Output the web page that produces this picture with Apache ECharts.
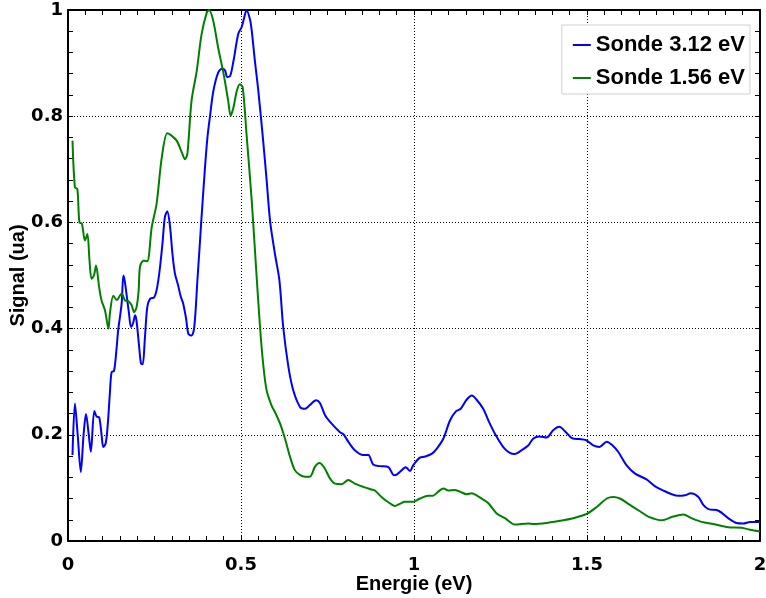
<!DOCTYPE html>
<html>
<head>
<meta charset="utf-8">
<script src="https://cdn.jsdelivr.net/npm/echarts@6/dist/echarts.min.js"></script>
<style>html,body{margin:0;padding:0;background:#fff}#c{width:766px;height:598px}</style>
</head>
<body>
<div id="c"></div>
<script>
const xTicks = ['0', '0.5', '1', '1.5', '2'];
const yTicks = ['0', '0.2', '0.4', '0.6', '0.8', '1'];
const seriesNames = ['Sonde 3.12 eV', 'Sonde 1.56 eV'];

const energyBlue = [0.013,0.020,0.028,0.037,0.045,0.052,0.060,0.066,0.076,0.083,0.090,0.097,0.102,0.109,0.115,0.121,0.126,0.133,0.140,0.145,0.155,0.160,0.164,0.170,0.176,0.182,0.188,0.194,0.198,0.205,0.211,0.216,0.222,0.229,0.237,0.249,0.256,0.261,0.266,0.273,0.280,0.287,0.295,0.302,0.309,0.318,0.326,0.333,0.341,0.348,0.357,0.365,0.374,0.380,0.386,0.396,0.403,0.410,0.420,0.434,0.446,0.454,0.460,0.468,0.478,0.492,0.502,0.509,0.516,0.526,0.531,0.540,0.550,0.564,0.574,0.584,0.598,0.611,0.622,0.637,0.651,0.671,0.685,0.699,0.717,0.728,0.743,0.762,0.786,0.796,0.810,0.829,0.853,0.868,0.882,0.902,0.926,0.942,0.950,0.964,0.976,0.988,0.998,1.017,1.032,1.051,1.066,1.085,1.104,1.121,1.135,1.152,1.167,1.181,1.200,1.215,1.234,1.258,1.277,1.292,1.311,1.330,1.345,1.362,1.383,1.403,1.420,1.439,1.459,1.478,1.497,1.518,1.536,1.557,1.574,1.590,1.614,1.639,1.672,1.697,1.721,1.745,1.764,1.783,1.800,1.822,1.836,1.851,1.880,1.908,1.932,1.952,1.971,2.0];
const signalBlue = [0.162,0.259,0.200,0.130,0.200,0.239,0.200,0.168,0.245,0.234,0.233,0.200,0.177,0.184,0.220,0.278,0.318,0.320,0.360,0.397,0.447,0.500,0.490,0.460,0.430,0.403,0.410,0.425,0.415,0.370,0.334,0.333,0.380,0.440,0.456,0.459,0.472,0.491,0.516,0.560,0.610,0.621,0.591,0.540,0.504,0.482,0.460,0.447,0.420,0.390,0.387,0.403,0.491,0.550,0.610,0.704,0.760,0.798,0.847,0.882,0.890,0.886,0.874,0.875,0.903,0.955,0.968,0.985,1.000,0.982,0.961,0.905,0.848,0.754,0.680,0.603,0.541,0.491,0.403,0.328,0.284,0.252,0.249,0.256,0.265,0.260,0.237,0.221,0.205,0.201,0.187,0.171,0.162,0.162,0.144,0.141,0.139,0.124,0.125,0.133,0.139,0.132,0.143,0.157,0.159,0.164,0.174,0.193,0.227,0.244,0.249,0.266,0.274,0.266,0.249,0.227,0.202,0.177,0.166,0.164,0.171,0.180,0.193,0.197,0.195,0.209,0.215,0.205,0.193,0.192,0.190,0.180,0.177,0.187,0.180,0.168,0.143,0.127,0.116,0.103,0.095,0.088,0.085,0.086,0.090,0.083,0.068,0.060,0.057,0.043,0.034,0.033,0.036,0.036];

const energyGreen = [0.013,0.020,0.027,0.033,0.040,0.049,0.056,0.062,0.068,0.075,0.081,0.090,0.097,0.107,0.117,0.121,0.131,0.141,0.155,0.165,0.174,0.184,0.191,0.198,0.204,0.208,0.218,0.229,0.242,0.256,0.271,0.287,0.300,0.314,0.329,0.338,0.345,0.357,0.372,0.386,0.401,0.408,0.420,0.434,0.449,0.463,0.470,0.478,0.488,0.497,0.505,0.516,0.531,0.543,0.555,0.564,0.574,0.589,0.598,0.613,0.627,0.642,0.656,0.671,0.685,0.699,0.714,0.727,0.740,0.757,0.772,0.791,0.810,0.829,0.853,0.877,0.887,0.906,0.926,0.945,0.959,0.974,0.998,1.017,1.041,1.054,1.070,1.085,1.099,1.116,1.133,1.152,1.167,1.181,1.200,1.215,1.239,1.263,1.292,1.330,1.345,1.383,1.422,1.460,1.499,1.528,1.557,1.576,1.595,1.624,1.653,1.677,1.716,1.749,1.778,1.802,1.831,1.865,1.908,1.947,1.971,2.0];
const signalGreen = [0.754,0.666,0.663,0.600,0.598,0.566,0.578,0.530,0.494,0.500,0.519,0.478,0.453,0.434,0.400,0.428,0.462,0.454,0.466,0.453,0.452,0.444,0.431,0.440,0.470,0.516,0.528,0.527,0.591,0.635,0.722,0.768,0.763,0.754,0.732,0.719,0.729,0.829,0.885,0.954,0.995,1.000,0.979,0.929,0.882,0.829,0.801,0.816,0.848,0.860,0.854,0.766,0.641,0.520,0.403,0.334,0.284,0.254,0.243,0.221,0.193,0.158,0.133,0.124,0.121,0.121,0.140,0.147,0.139,0.118,0.108,0.107,0.115,0.108,0.102,0.097,0.095,0.083,0.073,0.066,0.070,0.074,0.074,0.080,0.085,0.085,0.093,0.099,0.095,0.096,0.093,0.088,0.090,0.086,0.078,0.071,0.052,0.043,0.031,0.033,0.032,0.034,0.038,0.043,0.051,0.064,0.080,0.083,0.080,0.068,0.056,0.046,0.039,0.046,0.050,0.043,0.036,0.032,0.026,0.025,0.021,0.018];

const zip = (xs, ys) => xs.map((x, i) => [x, ys[i]]);
const FONT = 'Liberation Sans';
const TICKFONT = 'DejaVu Sans';
const chart = echarts.init(document.getElementById('c'), null, {renderer: 'canvas'});

const gridLine = {show: true, lineStyle: {color: '#000', width: 1, type: [1, 2]}};
const axLine = {show: true, onZero: false, lineStyle: {color: '#000', width: 2}};
const tick = {show: true, inside: true, length: 5, lineStyle: {color: '#000', width: 1}};

chart.setOption({
  animation: false,
  backgroundColor: '#fff',
  grid: {left: 68, right: 6, top: 10, bottom: 57, containLabel: false, outerBoundsMode: 'none'},
  legend: {
    orient: 'vertical', top: 25, right: 16,
    data: seriesNames,
    backgroundColor: '#fff', borderColor: '#d0d0d0', borderWidth: 1,
    padding: [9, 5, 5, 11], itemGap: 11,
    itemWidth: 18, itemHeight: 2, icon: 'rect',
    textStyle: {fontFamily: FONT, fontSize: 22, fontWeight: 'bold', color: '#000'}
  },
  xAxis: [{
    type: 'value', min: 0, max: 2, interval: 0.5,
    name: 'Energie (eV)', nameLocation: 'middle', nameGap: 33, nameMoveOverlap: false,
    nameTextStyle: {fontFamily: FONT, fontSize: 20, fontWeight: 'bold', color: '#000'},
    axisLine: axLine, axisTick: tick,
    minorTick: {show: true, splitNumber: 10, length: 5, lineStyle: {color: '#000', width: 1}},
    axisLabel: {fontFamily: TICKFONT, fontSize: 18, fontWeight: 'bold', color: '#000', margin: 15,
      formatter: (v) => xTicks[Math.round(v / 0.5)]},
    splitLine: gridLine
  }, {
    type: 'value', min: 0, max: 2, interval: 0.5, position: 'top',
    axisLine: axLine, axisTick: tick,
    minorTick: {show: true, splitNumber: 10, length: 5, lineStyle: {color: '#000', width: 1}},
    axisLabel: {show: false}, splitLine: {show: false}
  }],
  yAxis: [{
    type: 'value', min: 0, max: 1, interval: 0.2,
    name: 'Signal (ua)', nameLocation: 'middle', nameGap: 40, nameMoveOverlap: false,
    nameTextStyle: {fontFamily: FONT, fontSize: 20, fontWeight: 'bold', color: '#000'},
    axisLine: axLine, axisTick: tick,
    minorTick: {show: true, splitNumber: 5, length: 5, lineStyle: {color: '#000', width: 1}},
    axisLabel: {fontFamily: TICKFONT, fontSize: 18, fontWeight: 'bold', color: '#000', margin: 5,
      formatter: (v) => yTicks[Math.round(v / 0.2)]},
    splitLine: gridLine
  }, {
    type: 'value', min: 0, max: 1, interval: 0.2, position: 'right',
    axisLine: axLine, axisTick: tick,
    minorTick: {show: true, splitNumber: 5, length: 5, lineStyle: {color: '#000', width: 1}},
    axisLabel: {show: false}, splitLine: {show: false}
  }],
  series: [{
    name: seriesNames[0], type: 'line', showSymbol: false, smooth: 0.3,
    data: zip(energyBlue, signalBlue),
    itemStyle: {color: '#0000ff'},
    lineStyle: {color: '#0000ff', width: 2}
  }, {
    name: seriesNames[1], type: 'line', showSymbol: false, smooth: 0.3,
    data: zip(energyGreen, signalGreen),
    itemStyle: {color: '#008000'},
    lineStyle: {color: '#008000', width: 2}
  }]
});
</script>
</body>
</html>
